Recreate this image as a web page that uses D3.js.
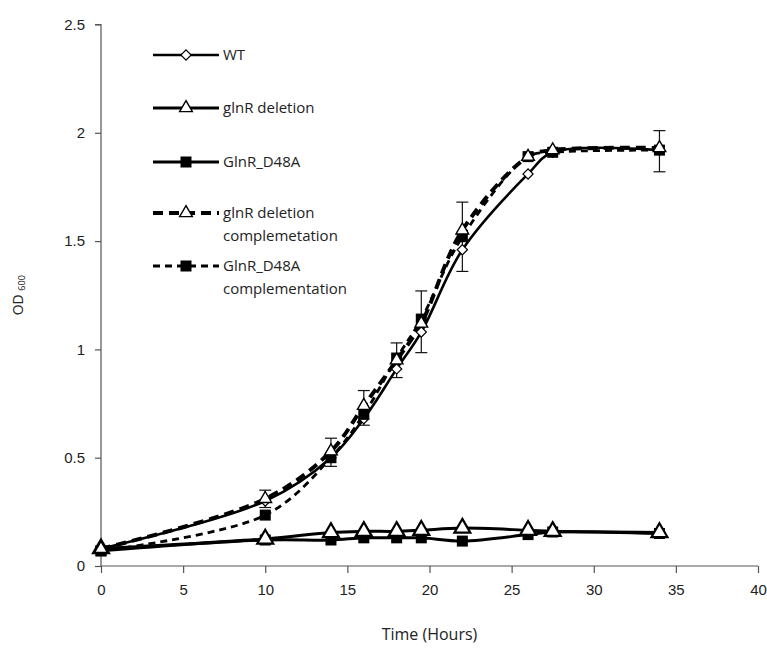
<!DOCTYPE html>
<html>
<head>
<meta charset="utf-8">
<script src="https://cdn.jsdelivr.net/npm/d3@7"></script>
<style>
  html, body { margin: 0; padding: 0; background: #fff; }
  svg { display: block; font-family: "Open Sans", "Noto Sans", sans-serif; }
</style>
</head>
<body>
<div id="chart"></div>
<script>
// sampling times (hours)
const times = [0, 10, 14, 16, 18, 19.5, 22, 26, 27.5, 34]

// OD600 per strain
const wt = [0.08, 0.30, 0.50, 0.68, 0.91, 1.08, 1.46, 1.81, 1.91, 1.92]
const glnRDeletion = [0.08, 0.125, 0.155, 0.16, 0.16, 0.165, 0.175, 0.165, 0.16, 0.155]
const glnRD48A = [0.07, 0.12, 0.12, 0.13, 0.13, 0.13, 0.115, 0.145, 0.157, 0.15]
const glnRDelComp = [0.08, 0.31, 0.53, 0.74, 0.95, 1.12, 1.55, 1.89, 1.92, 1.93]
const glnRD48AComp = [0.07, 0.235, 0.50, 0.70, 0.96, 1.14, 1.52, 1.89, 1.91, 1.92]

// error bars (time, low, high)
const errTimes = [10, 14, 16, 18, 19.5, 22, 34]
const errLow = [0.27, 0.46, 0.65, 0.87, 0.985, 1.36, 1.82]
const errHigh = [0.35, 0.59, 0.81, 1.03, 1.27, 1.68, 2.01]

const xTicks = [0, 5, 10, 15, 20, 25, 30, 35, 40]
const yTicks = [0, 0.5, 1, 1.5, 2, 2.5]

const series = [
  { name: ['WT'], values: wt, marker: 'diamond', dash: null, width: 2.6 },
  { name: ['glnR deletion'], values: glnRDeletion, marker: 'triangleBig', dash: null, width: 3 },
  { name: ['GlnR_D48A'], values: glnRD48A, marker: 'square', dash: null, width: 3 },
  { name: ['glnR deletion', 'complemetation'], values: glnRDelComp, marker: 'triangle', dash: '10,6', width: 4 },
  { name: ['GlnR_D48A', 'complementation'], values: glnRD48AComp, marker: 'square', dash: '7,5', width: 2.8 }
]

const width = 767
const height = 652
const margin = { top: 24.5, right: 9, bottom: 86, left: 101 }

const svg = d3.select('#chart').append('svg')
  .attr('width', width).attr('height', height)

const x = d3.scaleLinear().domain([0, 40]).range([margin.left, width - margin.right])
const y = d3.scaleLinear().domain([0, 2.5]).range([height - margin.bottom, margin.top])

// Axes
const xAxis = svg.append('g').attr('transform', `translate(0,${y(0)})`)
  .call(d3.axisBottom(x).tickValues(xTicks).tickSize(6).tickSizeOuter(0).tickPadding(12))
const yAxis = svg.append('g').attr('transform', `translate(${x(0)},0)`)
  .call(d3.axisLeft(y).tickValues(yTicks).tickSize(6).tickSizeOuter(0).tickPadding(10)
    .tickFormat(d => d3.format('')(d)))
;[xAxis, yAxis].forEach(a => {
  a.select('.domain').attr('stroke', '#555').attr('stroke-width', 1.2)
  a.selectAll('.tick line').attr('stroke', '#555').attr('stroke-width', 1.2)
  a.selectAll('.tick text').attr('fill', '#222').style('font-size', '15px')
})
yAxis.select('.domain').attr('d', `M-6,${y(2.5)}H0V${y(0)}`)
xAxis.selectAll('.tick line').attr('y1', 0).attr('y2', 7)
xAxis.select('.domain').attr('d', `M${x(0)},0H${x(40)}`)

// Axis titles
svg.append('text').attr('x', x(20)).attr('y', 640)
  .attr('text-anchor', 'middle').attr('fill', '#222').style('font-size', '16px')
  .text('Time (Hours)')
const yl = svg.append('text').attr('transform', `translate(23,${y(1.25)}) rotate(-90)`)
  .attr('text-anchor', 'middle').attr('fill', '#222').style('font-size', '14px')
yl.append('tspan').text('OD ')
yl.append('tspan').attr('dy', 2).style('font-size', '9px').text('600')

// Error bars
const eb = svg.append('g').attr('stroke', '#111').attr('stroke-width', 1.2)
errTimes.forEach((t, i) => {
  eb.append('line').attr('x1', x(t)).attr('x2', x(t)).attr('y1', y(errLow[i])).attr('y2', y(errHigh[i]))
  ;[errLow[i], errHigh[i]].forEach(v => {
    eb.append('line').attr('x1', x(t) - 6).attr('x2', x(t) + 6).attr('y1', y(v)).attr('y2', y(v))
  })
})

// Lines
const line = d3.line().x((d, i) => x(times[i])).y(d => y(d)).curve(d3.curveCatmullRom.alpha(0.5))
const drawOrder = [2, 1, 0, 4, 3]
drawOrder.forEach(k => {
  const s = series[k]
  svg.append('path').datum(s.values)
    .attr('d', line).attr('fill', 'none').attr('stroke', '#000')
    .attr('stroke-width', s.width)
    .attr('stroke-dasharray', s.dash)
})

function drawMarker(g, type, cx, cy) {
  if (type === 'diamond') {
    g.append('rect').attr('x', -3.6).attr('y', -3.6).attr('width', 7.2).attr('height', 7.2)
      .attr('transform', `translate(${cx},${cy}) rotate(45)`)
      .attr('fill', '#fff').attr('stroke', '#000').attr('stroke-width', 1.2)
  } else if (type === 'triangle') {
    g.append('path').attr('d', d3.symbol(d3.symbolTriangle, 70)())
      .attr('transform', `translate(${cx},${cy})`)
      .attr('fill', '#fff').attr('stroke', '#000').attr('stroke-width', 1.4)
  } else if (type === 'triangleBig') {
    g.append('path').attr('d', d3.symbol(d3.symbolTriangle, 110)())
      .attr('transform', `translate(${cx},${cy})`)
      .attr('fill', '#fff').attr('stroke', '#000').attr('stroke-width', 2.2)
  } else if (type === 'square') {
    g.append('rect').attr('x', cx - 5.5).attr('y', cy - 5.5).attr('width', 11).attr('height', 11)
      .attr('fill', '#000')
  }
}

// Markers
drawOrder.forEach(k => {
  const s = series[k]
  const g = svg.append('g')
  s.values.forEach((v, i) => drawMarker(g, s.marker, x(times[i]), y(v)))
})

// Legend
const legendRows = [55, 108, 162, 213, 266]
const legend = svg.append('g')
series.forEach((s, i) => {
  const ly = legendRows[i]
  legend.append('line').attr('x1', 153).attr('x2', 219).attr('y1', ly).attr('y2', ly)
    .attr('stroke', '#000').attr('stroke-width', s.width).attr('stroke-dasharray', s.dash)
  drawMarker(legend, s.marker === 'triangleBig' ? 'triangle' : s.marker, 186, ly)
  s.name.forEach((n, j) => {
    legend.append('text').attr('x', 223).attr('y', ly + 5 + j * 23)
      .attr('fill', '#222').style('font-size', '15px').text(n)
  })
})
</script>
</body>
</html>
